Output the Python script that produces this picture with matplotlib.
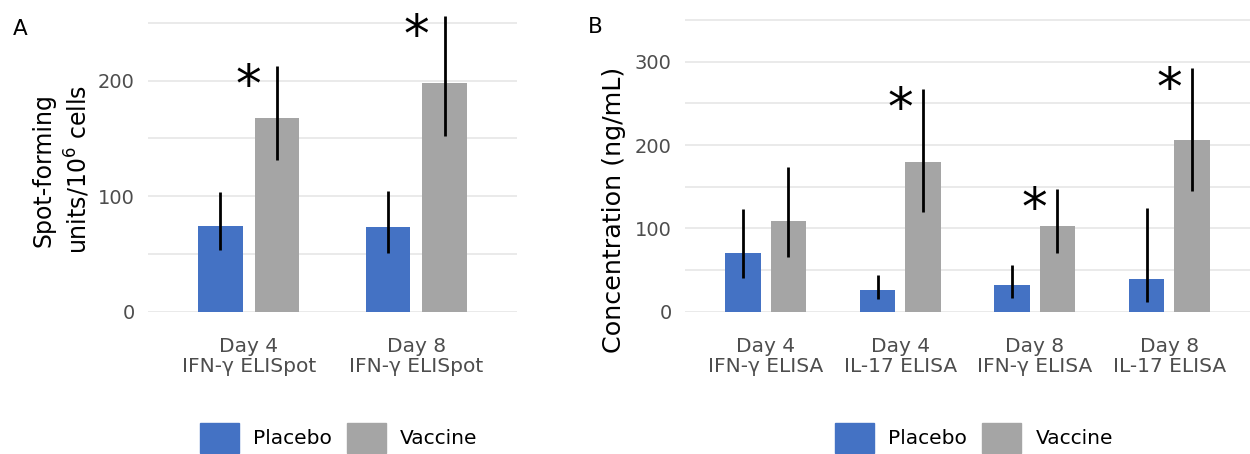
import matplotlib
matplotlib.use("Agg")
import matplotlib.pyplot as plt
from matplotlib.patches import Patch
from matplotlib.ticker import MultipleLocator
import numpy as np

# panel A - ELISpot
cats_a = ["Day 4\nIFN-γ ELISpot", "Day 8\nIFN-γ ELISpot"]
placebo_a = [74.5, 73.3]
placebo_a_lo = [53, 50.5]
placebo_a_hi = [104, 104.8]
vaccine_a = [168, 197.7]
vaccine_a_lo = [131, 152]
vaccine_a_hi = [212.7, 256]
signif_a = [True, True]

# panel B - ELISA
cats_b = ["Day 4\nIFN-γ ELISA", "Day 4\nIL-17 ELISA", "Day 8\nIFN-γ ELISA", "Day 8\nIL-17 ELISA"]
placebo_b = [70.8, 26, 32, 38.9]
placebo_b_lo = [40, 15, 16.8, 12]
placebo_b_hi = [123, 44, 56.4, 125]
vaccine_b = [108.5, 180, 103, 206.5]
vaccine_b_lo = [66, 119.7, 70.8, 144.5]
vaccine_b_hi = [174, 267.7, 147, 292]
signif_b = [False, True, True, True]

blue = "#4472C4"
grey = "#A5A5A5"
txtgrey = "#4D4D4D"
gridc = "#E8E8E8"

W, H = 1250, 454
fig = plt.figure(figsize=(W/100, H/100), dpi=100)

def px(x0, y0, x1, y1):
   # pixel box -> figure fraction
   return [x0/W, 1 - y1/H, (x1-x0)/W, (y1-y0)/H]

def panel(ax, cats, pl, pl_lo, pl_hi, va, va_lo, va_hi, sig, ytop):
   x = np.arange(len(cats))
   bw = 0.263
   off = 0.168
   ax.bar(x-off, pl, bw, color=blue, zorder=2)
   ax.bar(x+off, va, bw, color=grey, zorder=2)
   ax.vlines(x-off, pl_lo, pl_hi, color="black", lw=2, zorder=3)
   ax.vlines(x+off, va_lo, va_hi, color="black", lw=2, zorder=3)
   for i in range(len(cats)):
      if sig[i]:
         ax.annotate("*", xy=(x[i], va_hi[i]), xytext=(0, -26), textcoords="offset points",
                     ha="center", va="baseline", fontsize=37, color="black", zorder=4)
   ax.set_xlim(-0.6, len(cats)-0.4)
   ax.set_ylim(0, ytop)
   ax.set_xticks(x)
   ax.set_xticklabels(cats, fontsize=14.5, color=txtgrey, linespacing=1.12)
   ax.yaxis.set_major_locator(MultipleLocator(100))
   ax.yaxis.set_minor_locator(MultipleLocator(50))
   ax.tick_params(axis="x", length=0, pad=18)
   ax.tick_params(axis="y", which="both", length=0, pad=9.5, labelsize=14, labelcolor=txtgrey)
   ax.grid(axis="y", which="both", color=gridc, lw=1.3, zorder=0)
   ax.set_axisbelow(True)
   for s in ax.spines.values():
      s.set_visible(False)

ax_a = fig.add_axes(px(148, 14.9, 517, 311.7))
panel(ax_a, cats_a, placebo_a, placebo_a_lo, placebo_a_hi,
      vaccine_a, vaccine_a_lo, vaccine_a_hi, signif_a, 257)

ax_b = fig.add_axes(px(685, 18.4, 1250, 311.7))
panel(ax_b, cats_b, placebo_b, placebo_b_lo, placebo_b_hi,
      vaccine_b, vaccine_b_lo, vaccine_b_hi, signif_b, 352)

fig.text(62/W, 1-170/H, "Spot-forming\nunits/10$^6$ cells", rotation=90, ha="center", va="center",
         fontsize=17, multialignment="center", linespacing=1.3)
fig.text(614/W, 1-210/H, "Concentration (ng/mL)", rotation=90, ha="center", va="center", fontsize=18.3)

fig.text(20/W, 1-29/H, "A", ha="center", va="center", fontsize=15.5)
fig.text(595/W, 1-27/H, "B", ha="center", va="center", fontsize=15.5)

handles = [Patch(color=blue, label="Placebo"), Patch(color=grey, label="Vaccine")]
for cx in (338.7, 974):
   fig.legend(handles=handles, loc="center", bbox_to_anchor=(cx/W, 1-438/H), ncol=2,
              frameon=False, fontsize=14.5, handlelength=1.94, handleheight=1.94,
              handletextpad=0.7, columnspacing=0.75, borderpad=0)

plt.savefig("out.png", dpi=100)
